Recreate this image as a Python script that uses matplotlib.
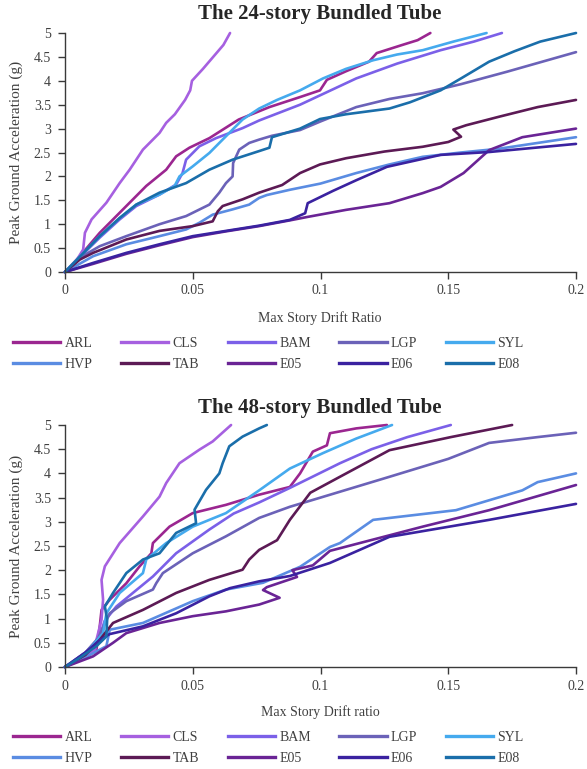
import matplotlib

matplotlib.use("Agg")
import matplotlib.pyplot as plt

plt.rcParams["font.family"] = ["Liberation Serif", "DejaVu Serif"]

# series names and colours (legend order)
names = ["ARL", "CLS", "BAM", "LGP", "SYL", "HVP", "TAB", "E05", "E06", "E08"]
colors = ["#9b2690", "#a660e0", "#7b60e8", "#6b62b8", "#45aaee",
          "#5a8ce2", "#5c1a55", "#6a2495", "#3a22a0", "#1a6eaa"]

xticks = [0, 0.05, 0.1, 0.15, 0.2]
xtick_labels = ["0", "0.05", "0.1", "0.15", "0.2"]
yticks = [0, 0.5, 1, 1.5, 2, 2.5, 3, 3.5, 4, 4.5, 5]
ytick_labels = ["0", "0.5", "1", "1.5", "2", "2.5", "3", "3.5", "4", "4.5", "5"]

# ---- 24-story bundled tube: drift ratio (x) vs PGA (y) ----
arl24_x = [0, 0.0058, 0.0136, 0.024, 0.0318, 0.0396, 0.0435, 0.0487, 0.0565, 0.068, 0.08,
           0.092, 0.0998, 0.1025, 0.11, 0.119, 0.122, 0.132, 0.138, 0.143]
arl24_y = [0, 0.33, 0.82, 1.38, 1.8, 2.14, 2.42, 2.6, 2.8, 3.19, 3.45,
           3.66, 3.8, 4.02, 4.2, 4.4, 4.58, 4.75, 4.85, 5.0]
cls24_x = [0, 0.004, 0.0071, 0.0078, 0.0104, 0.0162, 0.0214, 0.0253, 0.0305, 0.037, 0.0396,
           0.043, 0.047, 0.049, 0.0497, 0.054, 0.058, 0.062, 0.0646]
cls24_y = [0, 0.2, 0.47, 0.82, 1.1, 1.45, 1.86, 2.14, 2.56, 2.91, 3.12,
           3.3, 3.6, 3.8, 4.0, 4.25, 4.5, 4.75, 5.0]
bam24_x = [0, 0.006, 0.0136, 0.0214, 0.0279, 0.037, 0.0435, 0.046, 0.0474, 0.0526, 0.0591,
           0.0695, 0.076, 0.092, 0.1, 0.114, 0.13, 0.147, 0.16, 0.171]
bam24_y = [0, 0.32, 0.72, 1.1, 1.38, 1.62, 1.83, 2.07, 2.35, 2.63, 2.8,
           3.01, 3.17, 3.5, 3.7, 4.05, 4.36, 4.64, 4.82, 5.0]
lgp24_x = [0, 0.0058, 0.0136, 0.024, 0.037, 0.0474, 0.0565, 0.0604, 0.063, 0.0656, 0.0658,
           0.0682, 0.0721, 0.076, 0.081, 0.092, 0.1, 0.114, 0.127, 0.14, 0.155, 0.173, 0.2]
lgp24_y = [0, 0.3, 0.54, 0.75, 1.0, 1.17, 1.41, 1.66, 1.86, 2.0, 2.28,
           2.56, 2.7, 2.77, 2.85, 2.97, 3.15, 3.45, 3.62, 3.74, 3.93, 4.19, 4.6]
syl24_x = [0, 0.006, 0.0136, 0.0214, 0.0279, 0.037, 0.0429, 0.0448, 0.05, 0.0565, 0.063,
           0.0695, 0.076, 0.083, 0.092, 0.101, 0.11, 0.1206, 0.13, 0.14, 0.152, 0.165]
syl24_y = [0, 0.33, 0.75, 1.13, 1.41, 1.62, 1.8, 2.0, 2.21, 2.49, 2.84,
           3.19, 3.42, 3.6, 3.8, 4.05, 4.25, 4.43, 4.55, 4.64, 4.82, 5.0]
hvp24_x = [0, 0.011, 0.024, 0.037, 0.0474, 0.0526, 0.0578, 0.0656, 0.0721, 0.076, 0.079,
           0.088, 0.1, 0.114, 0.127, 0.14, 0.155, 0.17, 0.185, 0.2]
hvp24_y = [0, 0.33, 0.58, 0.75, 0.89, 1.03, 1.2, 1.31, 1.41, 1.55, 1.61,
           1.72, 1.85, 2.07, 2.25, 2.41, 2.5, 2.58, 2.7, 2.82]
tab24_x = [0, 0.0058, 0.011, 0.024, 0.037, 0.05, 0.0578, 0.0598, 0.0617, 0.0695, 0.076,
           0.085, 0.092, 0.0998, 0.11, 0.125, 0.14, 0.15, 0.155, 0.152, 0.157, 0.17, 0.185, 0.2]
tab24_y = [0, 0.26, 0.4, 0.68, 0.86, 0.96, 1.06, 1.27, 1.38, 1.52, 1.66,
           1.82, 2.07, 2.25, 2.38, 2.52, 2.62, 2.72, 2.83, 2.98, 3.07, 3.25, 3.45, 3.6]
e05_24_x = [0, 0.011, 0.024, 0.037, 0.05, 0.063, 0.076, 0.088, 0.0947, 0.11, 0.127,
            0.14, 0.147, 0.156, 0.166, 0.179, 0.2]
e05_24_y = [0, 0.17, 0.38, 0.56, 0.73, 0.85, 0.96, 1.08, 1.15, 1.3, 1.44,
            1.65, 1.78, 2.07, 2.55, 2.82, 3.0]
e06_24_x = [0, 0.011, 0.024, 0.037, 0.05, 0.063, 0.076, 0.088, 0.094, 0.095, 0.105,
            0.114, 0.126, 0.147, 0.166, 0.2]
e06_24_y = [0, 0.19, 0.4, 0.58, 0.75, 0.86, 0.97, 1.09, 1.23, 1.44, 1.7,
            1.92, 2.2, 2.45, 2.51, 2.68]
e08_24_x = [0, 0.006, 0.0136, 0.0214, 0.0279, 0.037, 0.0474, 0.0565, 0.0656, 0.076, 0.08,
            0.081, 0.092, 0.0998, 0.11, 0.127, 0.135, 0.147, 0.155, 0.166, 0.176, 0.186, 0.2]
e08_24_y = [0, 0.33, 0.75, 1.13, 1.41, 1.66, 1.86, 2.14, 2.35, 2.53, 2.6,
            2.82, 3.0, 3.2, 3.3, 3.42, 3.55, 3.8, 4.05, 4.4, 4.62, 4.82, 5.0]

# ---- 48-story bundled tube ----
arl48_x = [0, 0.006, 0.0123, 0.0136, 0.0143, 0.0175, 0.024, 0.0292, 0.0338, 0.0344, 0.0409,
           0.05, 0.063, 0.076, 0.088, 0.092, 0.097, 0.1025, 0.1037, 0.114, 0.126]
arl48_y = [0, 0.17, 0.36, 0.84, 1.18, 1.39, 1.73, 2.08, 2.35, 2.56, 2.9,
           3.18, 3.35, 3.56, 3.72, 4.0, 4.45, 4.58, 4.83, 4.93, 5.0]
cls48_x = [0, 0.006, 0.0118, 0.0123, 0.0143, 0.0149, 0.0143, 0.0156, 0.0214, 0.0305, 0.037,
           0.0396, 0.0448, 0.0526, 0.0578, 0.065]
cls48_y = [0, 0.15, 0.35, 0.56, 0.98, 1.39, 1.8, 2.08, 2.56, 3.11, 3.52,
           3.8, 4.21, 4.49, 4.66, 5.0]
bam48_x = [0, 0.008, 0.013, 0.0155, 0.0201, 0.0344, 0.0435, 0.0565, 0.066, 0.076, 0.088,
           0.1076, 0.12, 0.134, 0.151]
bam48_y = [0, 0.3, 0.55, 0.95, 1.25, 1.87, 2.35, 2.84, 3.17, 3.4, 3.7,
           4.21, 4.5, 4.75, 5.0]
lgp48_x = [0, 0.008, 0.013, 0.0175, 0.024, 0.0344, 0.0357, 0.0383, 0.05, 0.063, 0.076,
           0.088, 0.1, 0.127, 0.15, 0.166, 0.185, 0.2]
lgp48_y = [0, 0.3, 0.6, 1.11, 1.36, 1.6, 1.73, 1.94, 2.35, 2.7, 3.08,
           3.31, 3.5, 3.93, 4.3, 4.63, 4.75, 4.84]
syl48_x = [0, 0.006, 0.0149, 0.0162, 0.0214, 0.0305, 0.0318, 0.0396, 0.05, 0.063, 0.076,
           0.088, 0.101, 0.114, 0.128]
syl48_y = [0, 0.15, 0.7, 1.11, 1.53, 1.94, 2.22, 2.56, 2.9, 3.18, 3.65,
           4.1, 4.42, 4.72, 5.0]
hvp48_x = [0, 0.008, 0.0162, 0.0175, 0.0305, 0.05, 0.063, 0.0775, 0.092, 0.1037, 0.1076,
           0.1206, 0.153, 0.179, 0.185, 0.2]
hvp48_y = [0, 0.2, 0.43, 0.77, 0.91, 1.36, 1.6, 1.74, 2.07, 2.48, 2.56,
           3.04, 3.24, 3.65, 3.82, 4.0]
tab48_x = [0, 0.008, 0.0136, 0.0188, 0.0305, 0.0435, 0.0565, 0.0695, 0.0721, 0.076, 0.083,
           0.088, 0.096, 0.1076, 0.127, 0.151, 0.175]
tab48_y = [0, 0.25, 0.56, 0.91, 1.18, 1.53, 1.8, 2.01, 2.22, 2.42, 2.62,
           3.04, 3.6, 3.93, 4.48, 4.75, 5.0]
e05_48_x = [0, 0.011, 0.0188, 0.024, 0.037, 0.05, 0.063, 0.076, 0.084, 0.0775, 0.079,
            0.0908, 0.089, 0.097, 0.1037, 0.14, 0.166, 0.2]
e05_48_y = [0, 0.22, 0.5, 0.7, 0.91, 1.05, 1.15, 1.29, 1.43, 1.59, 1.65,
            1.86, 2.0, 2.1, 2.4, 2.9, 3.24, 3.76]
e06_48_x = [0, 0.008, 0.0137, 0.0175, 0.0305, 0.0435, 0.0565, 0.0646, 0.076, 0.088, 0.1037,
            0.127, 0.166, 0.2]
e06_48_y = [0, 0.3, 0.56, 0.68, 0.84, 1.11, 1.46, 1.63, 1.77, 1.88, 2.15,
            2.69, 3.04, 3.37]
e08_48_x = [0, 0.0058, 0.0123, 0.0162, 0.0165, 0.0156, 0.0188, 0.024, 0.0305, 0.037, 0.0435,
            0.0513, 0.0507, 0.0552, 0.0604, 0.0617, 0.0643, 0.0695, 0.076, 0.079]
e08_48_y = [0, 0.19, 0.43, 0.63, 0.98, 1.25, 1.53, 1.94, 2.22, 2.35, 2.77,
            2.97, 3.25, 3.66, 4.0, 4.21, 4.56, 4.76, 4.93, 5.0]

series24 = [(arl24_x, arl24_y), (cls24_x, cls24_y), (bam24_x, bam24_y), (lgp24_x, lgp24_y),
            (syl24_x, syl24_y), (hvp24_x, hvp24_y), (tab24_x, tab24_y), (e05_24_x, e05_24_y),
            (e06_24_x, e06_24_y), (e08_24_x, e08_24_y)]
series48 = [(arl48_x, arl48_y), (cls48_x, cls48_y), (bam48_x, bam48_y), (lgp48_x, lgp48_y),
            (syl48_x, syl48_y), (hvp48_x, hvp48_y), (tab48_x, tab48_y), (e05_48_x, e05_48_y),
            (e06_48_x, e06_48_y), (e08_48_x, e08_48_y)]

W, H = 587, 769
fig = plt.figure(figsize=(W / 100, H / 100), dpi=100)
TXT = "#404040"


def fy(py):
    return 1 - py / H


def draw(ax, series, title, xlabel, title_py, xlabel_py, legend_py):
    for (xs, ys), name, c in zip(series, names, colors):
        ax.plot(xs, ys, color=c, lw=1.9, label=name, clip_on=False,
                solid_joinstyle="round", solid_capstyle="round")
    ax.set_xlim(0, 0.2)
    ax.set_ylim(0, 5)
    ax.set_xticks(xticks, xtick_labels)
    ax.set_yticks(yticks, ytick_labels)
    for s in ("top", "right"):
        ax.spines[s].set_visible(False)
    for s in ("left", "bottom"):
        ax.spines[s].set_color("#3a3a3a")
        ax.spines[s].set_linewidth(1.0)
    ax.tick_params(direction="out", length=5, width=1.0, color="#3a3a3a",
                   labelsize=10, labelcolor=TXT)
    ax.tick_params(axis="x", pad=4)
    ax.tick_params(axis="y", pad=5)
    ax.set_ylabel("Peak Ground Acceleration (g)", fontsize=11, color=TXT, labelpad=8)
    fig.text(320 / W, fy(title_py), title, ha="center", va="center",
             fontsize=15, fontweight="bold", color="#262626")
    fig.text(320 / W, fy(xlabel_py), xlabel, ha="center", va="center",
             fontsize=10, color=TXT)
    # legend fills row by row: reorder for matplotlib's column-major fill
    order = [0, 5, 1, 6, 2, 7, 3, 8, 4, 9]
    leg_handles = [plt.Line2D([], [], color=colors[i], lw=2.4) for i in order]
    fig.legend(leg_handles, [names[i] for i in order], ncol=5, loc="upper left",
               bbox_to_anchor=(13 / W, fy(legend_py)), frameon=False, fontsize=10,
               handlelength=3.4, handletextpad=0.3, columnspacing=2.07,
               labelspacing=0.57, labelcolor=TXT, borderaxespad=0, borderpad=0)


ax1 = fig.add_axes([65 / W, fy(272), 511 / W, 239 / H])
ax2 = fig.add_axes([65 / W, fy(667), 511 / W, 242 / H])
draw(ax1, series24, "The 24-story Bundled Tube", "Max Story Drift Ratio", 14, 318, 337)
draw(ax2, series48, "The 48-story Bundled Tube", "Max Story Drift ratio", 408, 712, 731)

fig.savefig("out.png", dpi=100)
